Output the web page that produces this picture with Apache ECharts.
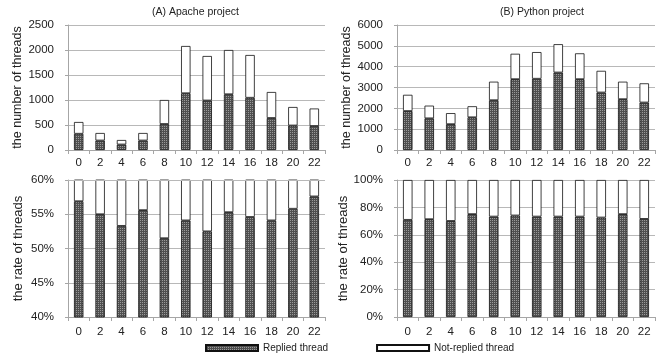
<!DOCTYPE html>
<html><head><meta charset="utf-8">
<script src="https://cdn.jsdelivr.net/npm/echarts@6/dist/echarts.min.js"></script>
<style>html,body{margin:0;padding:0;background:#fff}#c{width:665px;height:360px}</style>
</head><body><div id="c"></div>
<script>
const hours = ['0','2','4','6','8','10','12','14','16','18','20','22'];
const apacheReplied    = [325,190,110,190,520,1135,990,1115,1045,640,490,480];
const apacheNotReplied = [235,150,90,150,480,945,890,885,855,520,370,350];
const pythonReplied    = [1870,1520,1240,1570,2390,3400,3420,3720,3400,2760,2440,2280];
const pythonNotReplied = [780,610,530,530,890,1220,1280,1360,1240,1040,840,920];
const apacheRepliedRate = [56.9,55.0,53.3,55.6,51.5,54.1,52.5,55.3,54.6,54.1,55.8,57.6];
const pythonRepliedRate = [70.9,71.4,70.1,75.1,73.3,74.1,73.3,73.3,73.3,72.6,75.1,71.6];
const titles = ['(A) Apache project','(B) Python project'];
const seriesNames = ['Replied thread','Not-replied thread'];

const tile = document.createElement('canvas');
tile.width = 2; tile.height = 2;
const tc = tile.getContext('2d');
tc.fillStyle = '#4f4f4f'; tc.fillRect(0,0,2,2);
tc.fillStyle = '#9a9a9a'; tc.fillRect(0,0,1,1);
const pattern = {image: tile, repeat: 'repeat'};

const font = 'Liberation Sans';
const gridColor = '#b8b8b8';
const grids = [
  {left:68, top:25, width:257, height:125},
  {left:397, top:25, width:258, height:125},
  {left:68, top:180, width:257, height:137},
  {left:397, top:180, width:258, height:137}
];
const yCfg = [
  {min:0,max:2500,interval:500,name:'the number of threads',suffix:''},
  {min:0,max:6000,interval:1000,name:'the number of threads',suffix:''},
  {min:40,max:60,interval:5,name:'the rate of threads',suffix:'%'},
  {min:0,max:100,interval:20,name:'the rate of threads',suffix:'%'}
];
const axisColor = '#a6a6a6';
const xAxis = grids.map((g,i)=>({
  type:'category', gridIndex:i, data:hours,
  axisLine:{lineStyle:{color:axisColor}},
  axisTick:{show:true, alignWithLabel:false, length:4, lineStyle:{color:axisColor}},
  axisLabel:{color:'#222', fontFamily:font, fontSize:11.5, margin: i<2?7:9, interval:0}
}));
const yAxis = yCfg.map((c,i)=>({
  type:'value', gridIndex:i, min:c.min, max:c.max, interval:c.interval,
  name:c.name, nameLocation:'middle', nameGap:43,
  nameTextStyle:{color:'#222', fontFamily:font, fontSize: i<2?12.5:13},
  axisLine:{show:true, lineStyle:{color:axisColor}},
  axisTick:{show:true, length:3, lineStyle:{color:axisColor}},
  axisLabel:{color:'#222', fontFamily:font, fontSize:11.5, margin:14, formatter:(v)=>String(v)+c.suffix},
  splitLine:{lineStyle:{color:gridColor, width:1}}
}));

function pair(idx, rep, notRep){
  const st = 's'+idx;
  return [
    {name:seriesNames[0], type:'bar', xAxisIndex:idx, yAxisIndex:idx, stack:st, data:rep, barWidth:'44%',
     clip:true, itemStyle:{color:pattern, borderColor:'#111', borderWidth:0.8}},
    {name:seriesNames[1], type:'bar', xAxisIndex:idx, yAxisIndex:idx, stack:st, data:notRep, barWidth:'44%',
     clip:true, itemStyle:{color:'#fff', borderColor:'#111', borderWidth:0.8}}
  ];
}
const apacheRateRest = apacheRepliedRate.map(v=>+(100-v).toFixed(1));
const pythonRateRest = pythonRepliedRate.map(v=>+(100-v).toFixed(1));
const series = [].concat(
  pair(0, apacheReplied, apacheNotReplied),
  pair(1, pythonReplied, pythonNotReplied),
  pair(2, apacheRepliedRate, apacheRateRest),
  pair(3, pythonRepliedRate, pythonRateRest)
);
// the Apache rate bars run past the 60% top edge: keep only the grid line there
series[5].markLine = {silent:true, symbol:'none', label:{show:false}, animation:false,
  lineStyle:{color:gridColor, width:1, type:'solid'}, data:[{yAxis:yCfg[2].max}]};

const chart = echarts.init(document.getElementById('c'), null, {renderer:'canvas'});
chart.setOption({
  animation:false,
  backgroundColor:'#fff',
  title:[
    {text:titles[0], left:147, top:2, textStyle:{fontFamily:font, fontSize:10.5, fontWeight:'normal', color:'#222'}},
    {text:titles[1], left:495, top:2, textStyle:{fontFamily:font, fontSize:10.5, fontWeight:'normal', color:'#222'}}
  ],
  legend:{data:seriesNames, left:205, top:343, padding:0, itemWidth:52, itemHeight:6, itemGap:48, icon:'rect',
    textStyle:{fontFamily:font, fontSize:10, color:'#222'}, selectedMode:false},
  grid:grids,
  xAxis:xAxis,
  yAxis:yAxis,
  series:series
});
</script></body></html>
